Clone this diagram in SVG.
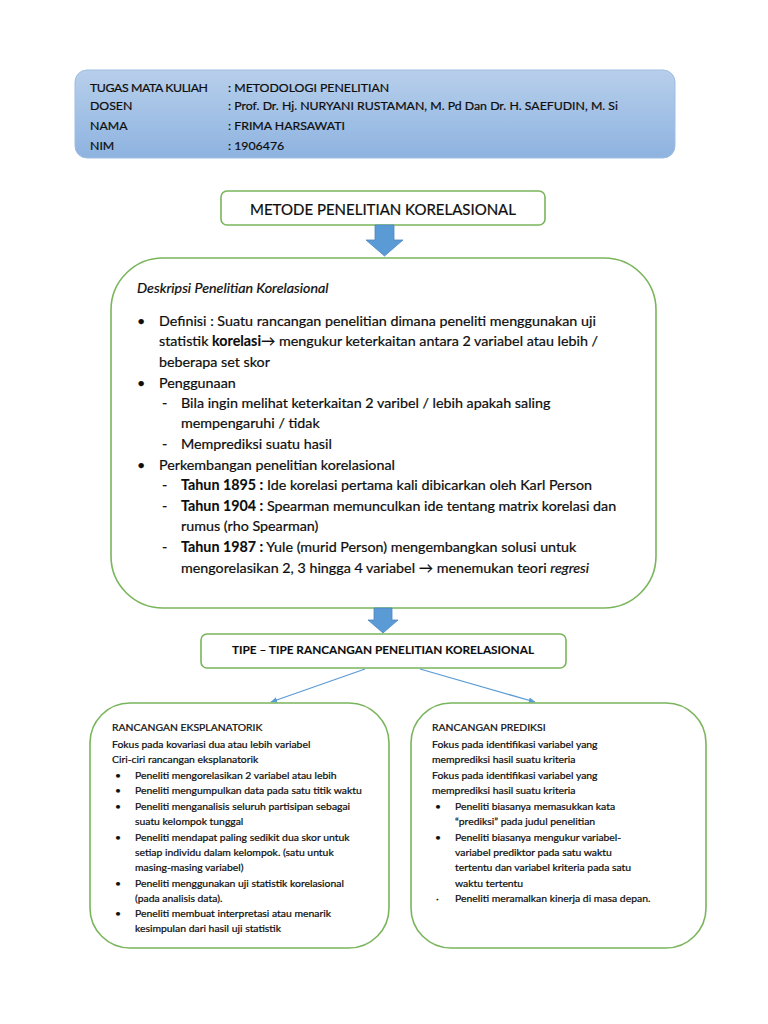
<svg xmlns="http://www.w3.org/2000/svg" width="768" height="1024" viewBox="0 0 768 1024">
<defs>
<linearGradient id="hdr" x1="0" y1="0" x2="0" y2="1">
<stop offset="0" stop-color="#b7cfeb"/>
<stop offset="1" stop-color="#8eb3e0"/>
</linearGradient>
<marker id="ah" viewBox="0 0 10 10" refX="9" refY="5" markerWidth="7" markerHeight="7" orient="auto" markerUnits="userSpaceOnUse">
<path d="M0,1 L10,5 L0,9 z" fill="#5b9bd5"/>
</marker>
<style>
.t{font-family:Lato,"Open Sans","Liberation Sans",sans-serif;fill:#0d0d0d;stroke:#0d0d0d;stroke-width:0.22}
.h{font-size:12.3px}
.m{font-size:14.3px}
.s{font-size:10.4px}
.box{fill:#fff;stroke:#7ab55c;stroke-width:1.6}
.blk{fill:#5b9bd5;stroke:#4f86c0;stroke-width:0.8}
.b{font-weight:bold;stroke-width:0.1}
.i{font-style:italic}
.c{stroke:#5b9bd5;stroke-width:1.3;fill:none}
</style>
</defs>
<rect width="768" height="1024" fill="#fff"/>

<g id="header">
<rect x="75" y="70" width="600" height="88" rx="12" fill="url(#hdr)" stroke="#9fbde2" stroke-width="1"/>
<text class="t h" x="90" y="92" letter-spacing="-0.4">TUGAS MATA KULIAH</text>
<text class="t h" x="228" y="92">: METODOLOGI PENELITIAN</text>
<text class="t h" x="90" y="110">DOSEN</text>
<text class="t h" x="228" y="110">: Prof. Dr. Hj. NURYANI RUSTAMAN, M. Pd Dan Dr. H. SAEFUDIN, M. Si</text>
<text class="t h" x="90" y="130">NAMA</text>
<text class="t h" x="228" y="130">: FRIMA HARSAWATI</text>
<text class="t h" x="90" y="150">NIM</text>
<text class="t h" x="228" y="150">: 1906476</text>
</g>

<g id="title">
<rect class="box" x="221" y="191" width="324" height="34" rx="6"/>
<text class="t" x="383" y="215" font-size="15" text-anchor="middle">METODE PENELITIAN KORELASIONAL</text>
</g>

<g id="arrow1">
<path class="blk" d="M375,225 H394 V240 H403 L384.5,256 L366,240 H375 Z"/>
</g>

<g id="deskripsi">
<rect class="box" x="111" y="258" width="545" height="350" rx="52"/>
<text class="t m i" x="137" y="293">Deskripsi Penelitian Korelasional</text>
<text class="t m" x="137" y="326">•</text>
<text class="t m" x="159" y="326">Definisi : Suatu rancangan penelitian dimana peneliti menggunakan uji</text>
<text class="t m" x="159" y="346">statistik  <tspan class="b">korelasi</tspan>→ mengukur keterkaitan  antara 2 variabel atau lebih /</text>
<text class="t m" x="159" y="367">beberapa set skor</text>
<text class="t m" x="137" y="388">•</text>
<text class="t m" x="159" y="388">Penggunaan</text>
<text class="t m" x="162" y="408">-</text>
<text class="t m" x="181" y="408">Bila ingin melihat keterkaitan 2 varibel / lebih apakah saling</text>
<text class="t m" x="181" y="428">mempengaruhi / tidak</text>
<text class="t m" x="162" y="449">-</text>
<text class="t m" x="181" y="449">Memprediksi suatu hasil</text>
<text class="t m" x="137" y="470">•</text>
<text class="t m" x="159" y="470">Perkembangan penelitian korelasional</text>
<text class="t m" x="162" y="490">-</text>
<text class="t m" x="181" y="490"><tspan class="b">Tahun 1895 :</tspan> Ide korelasi pertama kali dibicarkan oleh Karl Person</text>
<text class="t m" x="162" y="511">-</text>
<text class="t m" x="181" y="511"><tspan class="b">Tahun 1904 :</tspan> Spearman memunculkan ide tentang matrix korelasi dan</text>
<text class="t m" x="181" y="531">rumus (rho Spearman)</text>
<text class="t m" x="162" y="552">-</text>
<text class="t m" x="181" y="552"><tspan class="b">Tahun 1987 :</tspan> Yule (murid Person) mengembangkan solusi untuk</text>
<text class="t m" x="181" y="573">mengorelasikan 2, 3 hingga 4 variabel  → menemukan teori <tspan class="i">regresi</tspan></text>
</g>

<g id="arrow2">
<path class="blk" d="M374,608 H392 V620 H398 L383,633 L368,620 H374 Z"/>
</g>

<g id="tipe">
<rect class="box" x="201" y="634" width="365" height="34" rx="6"/>
<text class="t b" x="383" y="654" font-size="11.8" text-anchor="middle">TIPE – TIPE RANCANGAN PENELITIAN KORELASIONAL</text>
</g>

<g id="connectors">
<line class="c" x1="365" y1="669" x2="271" y2="702" marker-end="url(#ah)"/>
<line class="c" x1="420" y1="669" x2="535" y2="702" marker-end="url(#ah)"/>
</g>

<g id="eksplanatorik">
<rect class="box" x="90" y="703" width="299" height="245" rx="40"/>
<text class="t s" x="112" y="731">RANCANGAN EKSPLANATORIK</text>
<text class="t s" x="112" y="748">Fokus pada kovariasi dua atau lebih variabel</text>
<text class="t s" x="112" y="763">Ciri-ciri rancangan eksplanatorik</text>
<text class="t s" x="115" y="779">•</text>
<text class="t s" x="135" y="779">Peneliti mengorelasikan 2 variabel atau lebih</text>
<text class="t s" x="115" y="794">•</text>
<text class="t s" x="135" y="794">Peneliti mengumpulkan data pada satu titik waktu</text>
<text class="t s" x="115" y="810">•</text>
<text class="t s" x="135" y="810">Peneliti menganalisis seluruh partisipan sebagai</text>
<text class="t s" x="135" y="825">suatu kelompok tunggal</text>
<text class="t s" x="115" y="841">•</text>
<text class="t s" x="135" y="841">Peneliti mendapat paling sedikit dua skor untuk</text>
<text class="t s" x="135" y="856">setiap individu dalam kelompok. (satu untuk</text>
<text class="t s" x="135" y="871">masing-masing variabel)</text>
<text class="t s" x="115" y="887">•</text>
<text class="t s" x="135" y="887">Peneliti menggunakan uji statistik korelasional</text>
<text class="t s" x="135" y="902">(pada analisis data).</text>
<text class="t s" x="115" y="917">•</text>
<text class="t s" x="135" y="917">Peneliti membuat interpretasi atau menarik</text>
<text class="t s" x="135" y="932">kesimpulan dari hasil uji statistik</text>
</g>

<g id="prediksi">
<rect class="box" x="411" y="703" width="295" height="245" rx="40"/>
<text class="t s" x="432" y="731">RANCANGAN PREDIKSI</text>
<text class="t s" x="432" y="748">Fokus pada identifikasi variabel yang</text>
<text class="t s" x="432" y="763">memprediksi hasil suatu kriteria</text>
<text class="t s" x="432" y="779">Fokus pada identifikasi variabel yang</text>
<text class="t s" x="432" y="794">memprediksi hasil suatu kriteria</text>
<text class="t s" x="435" y="810">•</text>
<text class="t s" x="455" y="810">Peneliti biasanya memasukkan kata</text>
<text class="t s" x="455" y="825">“prediksi” pada judul penelitian</text>
<text class="t s" x="435" y="841">•</text>
<text class="t s" x="455" y="841">Peneliti biasanya mengukur variabel-</text>
<text class="t s" x="455" y="856">variabel prediktor pada satu waktu</text>
<text class="t s" x="455" y="871">tertentu dan variabel kriteria pada satu</text>
<text class="t s" x="455" y="887">waktu tertentu</text>
<text class="t s" x="436" y="902">·</text>
<text class="t s" x="455" y="902">Peneliti meramalkan kinerja di masa depan.</text>
</g>
</svg>
